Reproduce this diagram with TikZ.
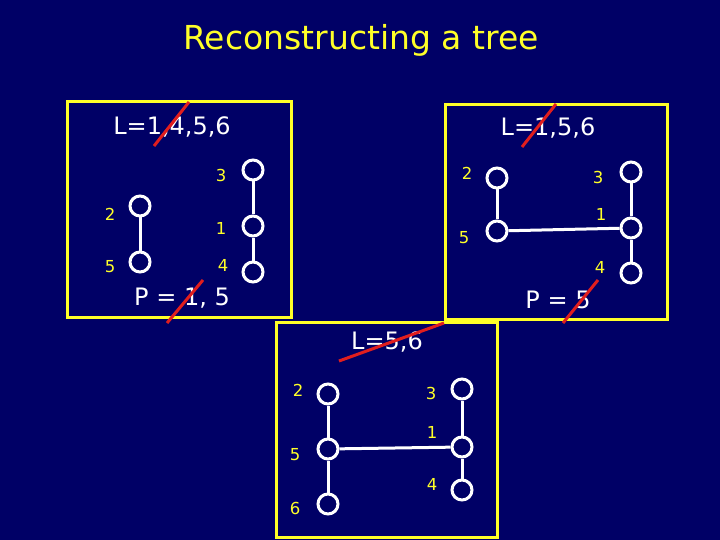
\documentclass[tikz,border=0pt]{standalone}
\usepackage{fontspec}
\setmainfont{DejaVu Sans}
\definecolor{bg}{RGB}{0,0,102}
\definecolor{ylw}{RGB}{255,255,40}
\definecolor{slash}{RGB}{225,30,30}
\begin{document}
\begin{tikzpicture}[x=1pt,y=-1pt,
  vtx/.style={circle,draw=white,line width=3pt,fill=bg,minimum size=20pt,inner sep=0pt},
  edge/.style={draw=white,line width=3pt},
  lbl/.style={text=ylw,font=\fontsize{16.5}{18}\selectfont,inner sep=0pt},
  hdr/.style={text=white,font=\fontsize{24}{28}\selectfont,inner sep=0pt},
  frame/.style={draw=ylw,line width=3pt},
  cross/.style={draw=slash,line width=3pt}]
\fill[bg] (0,0) rectangle (720,540);
\useasboundingbox (0,0) rectangle (720,540);
\node[text=ylw,font=\fontsize{33}{36}\selectfont] (title) at (361,40) {Reconstructing a tree};
% frames
\draw[frame] (67,102) rectangle (291,317);
\draw[frame] (445,105) rectangle (667,319);
\draw[frame,fill=bg] (276,322) rectangle (497,537);
% box 1
\node[hdr] (h1) at (172,127) {L=1,4,5,6};
\coordinate (s1a) at (154,146); \coordinate (s1b) at (189,102);
\draw[cross] (s1a) -- (s1b);
\node[vtx] (a2) at (140,206) {};
\node[vtx] (a5) at (140,262) {};
\node[vtx] (a3) at (253,170) {};
\node[vtx] (a1) at (253,226) {};
\node[vtx] (a4) at (253,272) {};
\draw[edge] (a2) -- (a5);
\draw[edge] (a3) -- (a1);
\draw[edge] (a1) -- (a4);
\node[lbl] at (110,214) {2};
\node[lbl] at (110,267) {5};
\node[lbl] at (221,175) {3};
\node[lbl] at (221,228) {1};
\node[lbl] at (223,265) {4};
\node[hdr] (p1) at (182,298) {P = 1, 5};
\coordinate (t1a) at (167,323); \coordinate (t1b) at (203,280);
\draw[cross] (t1a) -- (t1b);
% box 2
\node[hdr] (h2) at (548,128) {L=1,5,6};
\coordinate (s2a) at (522,147); \coordinate (s2b) at (556,104);
\draw[cross] (s2a) -- (s2b);
\node[vtx] (b2) at (497,178) {};
\node[vtx] (b5) at (497,231) {};
\node[vtx] (b3) at (631,172) {};
\node[vtx] (b1) at (631,228) {};
\node[vtx] (b4) at (631,273) {};
\draw[edge] (b2) -- (b5);
\draw[edge] (b5) -- (b1);
\draw[edge] (b3) -- (b1);
\draw[edge] (b1) -- (b4);
\node[lbl] at (467,173) {2};
\node[lbl] at (464,238) {5};
\node[lbl] at (598,177) {3};
\node[lbl] at (601,214) {1};
\node[lbl] at (600,267) {4};
\node[hdr] (p2) at (558,300) {P = 5};
\coordinate (t2a) at (563,323); \coordinate (t2b) at (598,280);
\draw[cross] (t2a) -- (t2b);
% box 3
\node[hdr] (h3) at (387,342) {L=5,6};
\coordinate (s3a) at (339,361); \coordinate (s3b) at (444,323);
\draw[cross] (s3a) -- (s3b);
\node[vtx] (c2) at (328,394) {};
\node[vtx] (c5) at (328,449) {};
\node[vtx] (c6) at (328,504) {};
\node[vtx] (c3) at (462,389) {};
\node[vtx] (c1) at (462,447) {};
\node[vtx] (c4) at (462,490) {};
\draw[edge] (c2) -- (c5);
\draw[edge] (c5) -- (c6);
\draw[edge] (c5) -- (c1);
\draw[edge] (c3) -- (c1);
\draw[edge] (c1) -- (c4);
\node[lbl] at (298,390) {2};
\node[lbl] at (295,455) {5};
\node[lbl] at (295,508) {6};
\node[lbl] at (431,393) {3};
\node[lbl] at (432,432) {1};
\node[lbl] at (432,484) {4};
\end{tikzpicture}
\end{document}
